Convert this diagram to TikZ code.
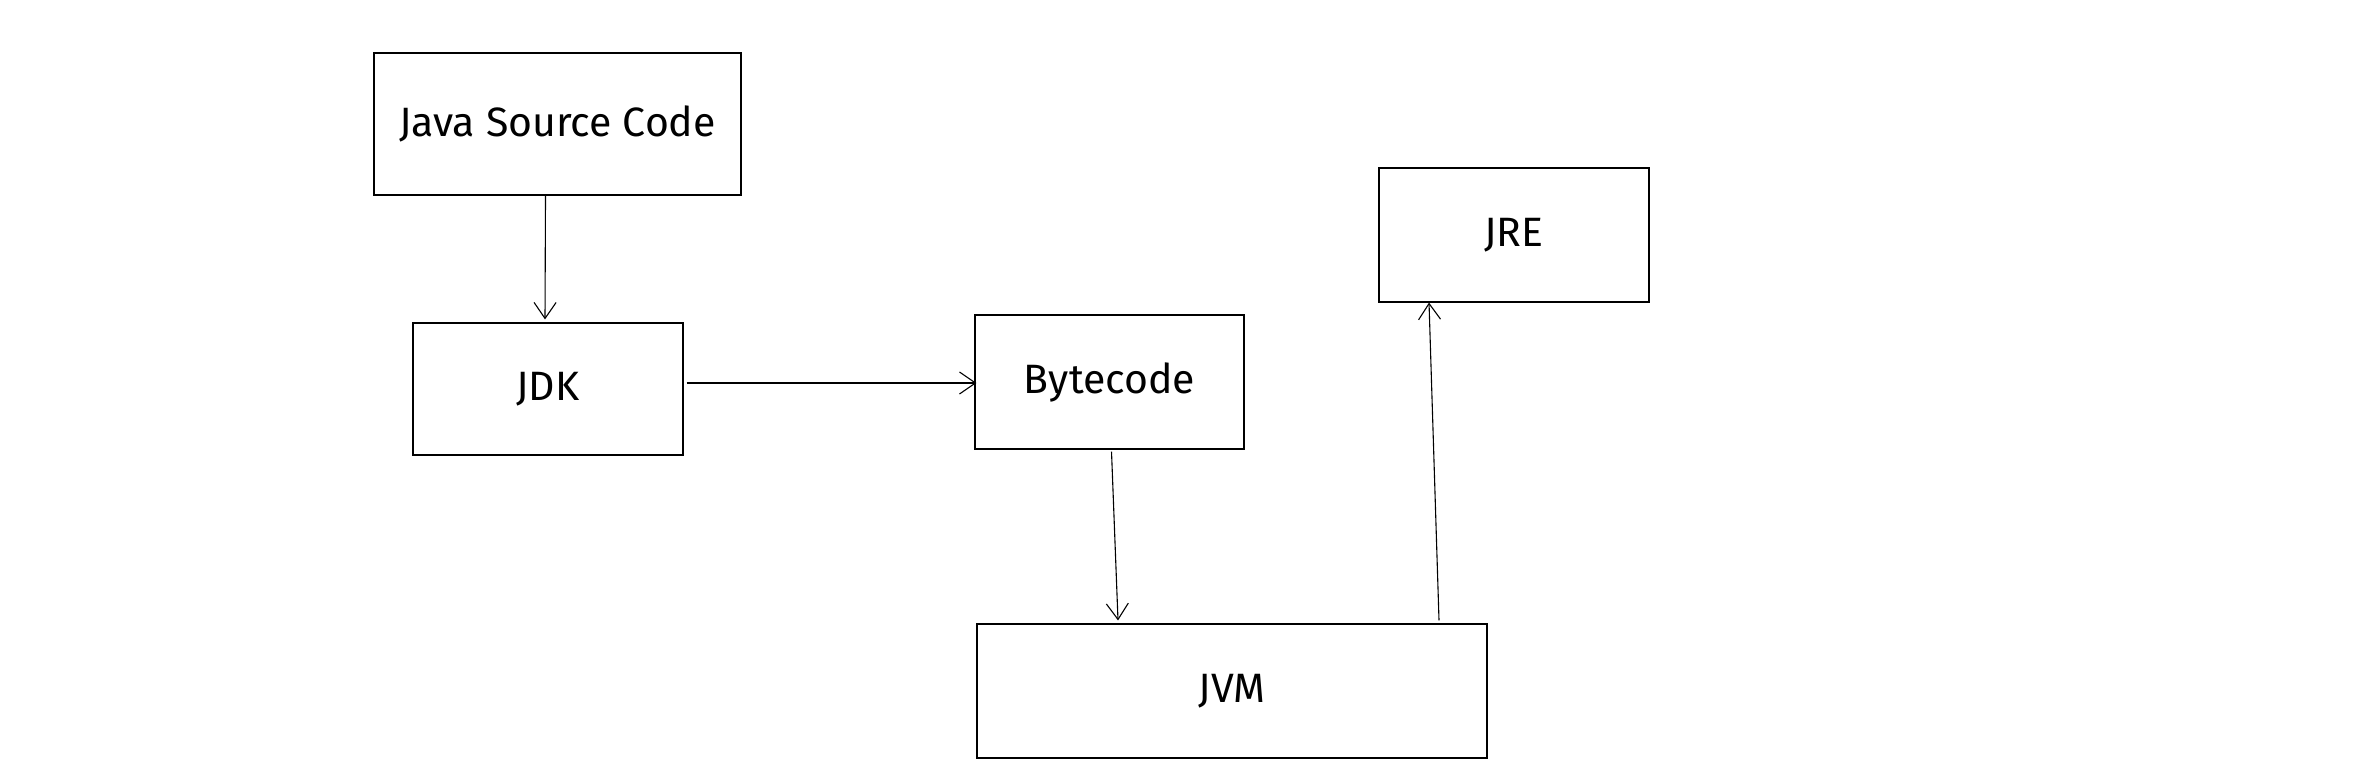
\documentclass[tikz,border=0pt]{standalone}
\usepackage{fontspec}
\setmainfont{Fira Sans}
\usetikzlibrary{arrows.meta}
\begin{document}
\begin{tikzpicture}[x=0.5pt,y=-0.5pt,
  box/.style={draw=black, line width=0.55pt, inner sep=0pt, minimum height=67pt, font=\fontsize{20.5}{22}\selectfont},
  conn/.style={draw=black, line width=0.55pt, -{Straight Barb[length=8pt,width=11pt]}}]
\useasboundingbox[fill=white] (0,0) rectangle (2353,769);
\node[box, minimum width=183.5pt, minimum height=71pt] (java) at (557.5,124) {Java Source Code};
\node[box, minimum width=135pt, minimum height=66pt] (jdk) at (548,389) {JDK};
\node[box, minimum width=134.5pt] (byte) at (1109.5,382) {Bytecode};
\node[box, minimum width=135pt] (jre) at (1514,235) {JRE};
\node[box, minimum width=255pt] (jvm) at (1232,691) {JVM};
\draw[conn] ([xshift=-6pt]java.south) -- ([xshift=-1.5pt,yshift=1.5pt]jdk.north);
\draw[conn] ([xshift=1.5pt,yshift=3pt]jdk.east) -- ([xshift=1pt,yshift=-0.5pt]byte.west);
\draw[conn] ([xshift=1pt,yshift=-1pt]byte.south) -- ([xshift=-57pt,yshift=1.5pt]jvm.north);
\draw[conn] ([xshift=103.5pt,yshift=1.5pt]jvm.north) -- ([xshift=-42.5pt,yshift=0pt]jre.south);
\end{tikzpicture}
\end{document}
